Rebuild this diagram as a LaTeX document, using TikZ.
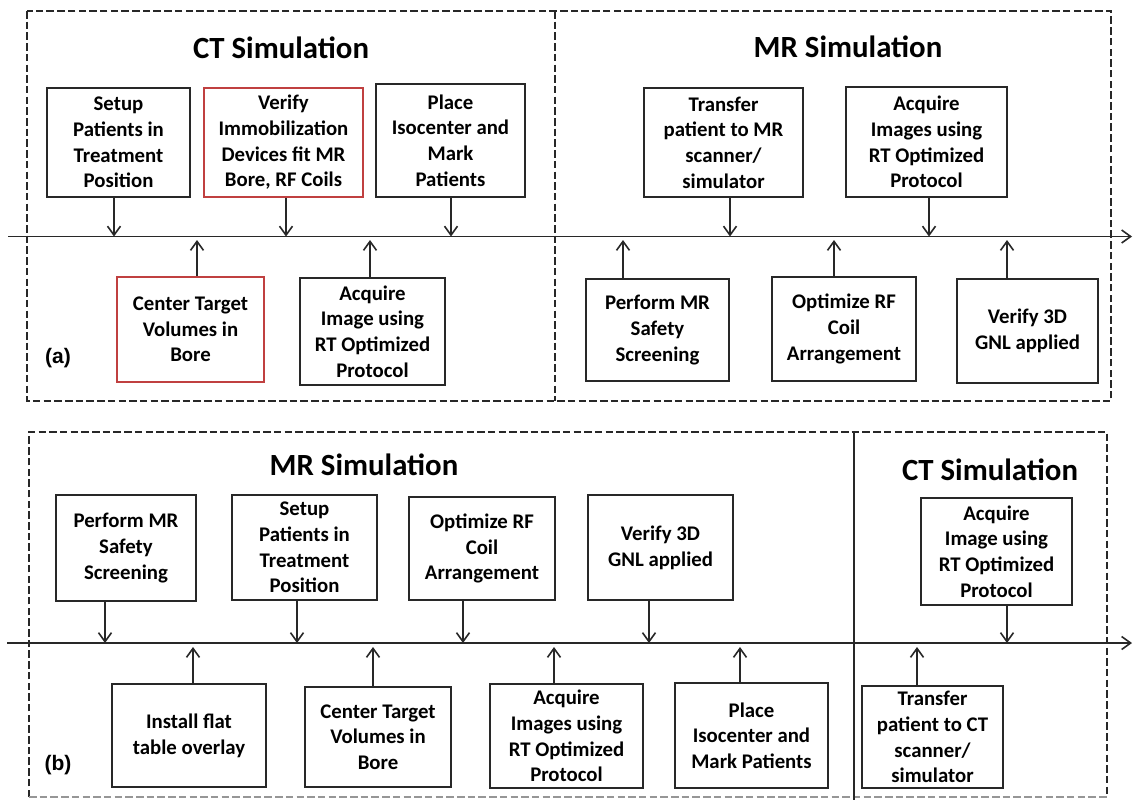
\documentclass[tikz,border=0pt]{standalone}
\usepackage{fontspec}
\setmainfont{Carlito}
\newfontfamily\labelfont{Liberation Sans}
\usetikzlibrary{arrows.meta}
\definecolor{ink}{RGB}{40,40,40}
\definecolor{faint}{RGB}{150,150,150}
\definecolor{boxred}{RGB}{192,64,64}
\newcommand{\boxfont}{\bfseries\fontsize{10.4}{12.85}\selectfont}
\newcommand{\titlefont}{\bfseries\fontsize{15.4}{18}\selectfont}

\begin{document}
\begin{tikzpicture}[x=0.5pt, y=-0.5pt,
    stepbox/.style={draw=ink, line width=0.9pt, align=center, inner sep=0pt, font=\boxfont},
    redbox/.style={stepbox, draw=boxred},
    panel/.style={ink, line width=0.75pt, dash pattern=on 3.75pt off 1.6pt},
    flow/.style={ink, line width=0.8pt, -{Straight Barb[length=4.5pt,width=6.5pt]}},
    ttl/.style={font=\titlefont},
    tag/.style={font=\labelfont\bfseries\fontsize{10.5}{12}\selectfont}]
    \useasboundingbox (0,0) rectangle (1133,800);

    % Dashed panels
    \draw[panel] (27,11) rectangle (1111,401);
    \draw[panel] (555,11) -- (555,401);
    \draw[panel] (29,797) -- (29,432) -- (1107,432) -- (1107,797);
    \draw[panel, faint] (29,797) -- (1107,797);
    \draw[ink, line width=0.75pt] (854,432) -- (854,800);

    % Panel titles and tags
    \node[ttl] (ctA) at (281,48) {CT Simulation};
    \node[ttl] (mrA) at (848,47) {MR Simulation};
    \node[ttl] (mrB) at (364,465) {MR Simulation};
    \node[ttl] (ctB) at (990,470) {CT Simulation};
    \node[tag] (tagA) at (58,358) {(a)};
    \node[tag] (tagB) at (58,765) {(b)};

    % Time lines
    \coordinate (axA0) at (8,236.5);
    \coordinate (axA1) at (1132,236.5);
    \coordinate (axB0) at (7,643);
    \coordinate (axB1) at (1132,643);
    \draw[flow] (axA0) -- (axA1);
    \draw[flow] (axB0) -- (axB1);

    % (a) steps above the line
    \node[stepbox, minimum width=71.5pt, minimum height=54.5pt] (setupA) at (118.5,142.5) {Setup\\Patients in\\Treatment\\Position};
    \node[redbox, minimum width=79.5pt, minimum height=54.5pt] (verifyA) at (283.5,142.5) {Verify\\Immobilization\\Devices fit MR\\Bore, RF Coils};
    \node[stepbox, minimum width=74.5pt, minimum height=56.5pt] (placeA) at (450.5,140.5) {Place\\Isocenter and\\Mark\\Patients};
    \node[stepbox, minimum width=79.5pt, minimum height=54.5pt] (transferA) at (723.5,142.5) {Transfer\\patient to MR\\scanner/\\simulator};
    \node[stepbox, minimum width=80.5pt, minimum height=55pt] (acqImgsA) at (926.5,142) {Acquire\\Images using\\RT Optimized\\Protocol};
    % (a) steps below the line
    \node[redbox, minimum width=73.5pt, minimum height=52.5pt] (centerA) at (190.5,329.5) {Center Target\\Volumes in\\Bore};
    \node[stepbox, minimum width=72.5pt, minimum height=53.5pt] (acqImgA) at (372.5,331.5) {Acquire\\Image using\\RT Optimized\\Protocol};
    \node[stepbox, minimum width=71.5pt, minimum height=51pt] (performA) at (657.5,330) {Perform MR\\Safety\\Screening};
    \node[stepbox, minimum width=72pt, minimum height=52pt] (optimizeA) at (844,329) {Optimize RF\\Coil\\Arrangement};
    \node[stepbox, minimum width=70.5pt, minimum height=52pt] (gnlA) at (1027.5,331) {Verify 3D\\GNL applied};

    % (b) steps above the line
    \node[stepbox, minimum width=70pt, minimum height=53pt] (performB) at (126,548) {Perform MR\\Safety\\Screening};
    \node[stepbox, minimum width=72.5pt, minimum height=52.5pt] (setupB) at (304.5,547.5) {Setup\\Patients in\\Treatment\\Position};
    \node[stepbox, minimum width=73pt, minimum height=51.5pt] (optimizeB) at (482,548.5) {Optimize RF\\Coil\\Arrangement};
    \node[stepbox, minimum width=72.5pt, minimum height=52.5pt] (gnlB) at (660.5,547.5) {Verify 3D\\GNL applied};
    \node[stepbox, minimum width=75.5pt, minimum height=53.5pt] (acqCTB) at (996.5,551.5) {Acquire\\Image using\\RT Optimized\\Protocol};
    % (b) steps below the line
    \node[stepbox, minimum width=77pt, minimum height=51.5pt] (installB) at (189,735.5) {Install flat\\table overlay};
    \node[stepbox, minimum width=73pt, minimum height=50pt] (centerB) at (378,737) {Center Target\\Volumes in\\Bore};
    \node[stepbox, minimum width=76.5pt, minimum height=52pt] (acqMRB) at (566.5,736) {Acquire\\Images using\\RT Optimized\\Protocol};
    \node[stepbox, minimum width=76.5pt, minimum height=52.5pt] (placeB) at (751.5,735.5) {Place\\Isocenter and\\Mark Patients};
    \node[stepbox, minimum width=70.5pt, minimum height=51pt] (transferB) at (932.5,737) {Transfer\\patient to CT\\scanner/\\simulator};

    % Where the arrows meet the time lines
    \coordinate (dA1) at (114,236.5);
    \coordinate (dA2) at (286,236.5);
    \coordinate (dA3) at (451,236.5);
    \coordinate (dA4) at (730,236.5);
    \coordinate (dA5) at (929,236.5);
    \coordinate (uA1) at (197,240);
    \coordinate (uA2) at (370,240);
    \coordinate (uA3) at (623,240);
    \coordinate (uA4) at (834,240);
    \coordinate (uA5) at (1007,240);
    \coordinate (dB1) at (105,643);
    \coordinate (dB2) at (297,643);
    \coordinate (dB3) at (463,643);
    \coordinate (dB4) at (649,643);
    \coordinate (dB5) at (1007,643);
    \coordinate (uB1) at (193,647);
    \coordinate (uB2) at (373,647);
    \coordinate (uB3) at (554,647);
    \coordinate (uB4) at (740,647);
    \coordinate (uB5) at (917,647);

    % Arrows from the steps to the time lines
    \foreach \b/\c in {setupA/dA1, verifyA/dA2, placeA/dA3, transferA/dA4, acqImgsA/dA5,
                       performB/dB1, setupB/dB2, optimizeB/dB3, gnlB/dB4, acqCTB/dB5} {
      \draw[flow] (\b.south -| \c) -- (\c);
    }
    \foreach \b/\c in {centerA/uA1, acqImgA/uA2, performA/uA3, optimizeA/uA4, gnlA/uA5,
                       installB/uB1, centerB/uB2, acqMRB/uB3, placeB/uB4, transferB/uB5} {
      \draw[flow] (\b.north -| \c) -- (\c);
    }
\end{tikzpicture}
\end{document}
